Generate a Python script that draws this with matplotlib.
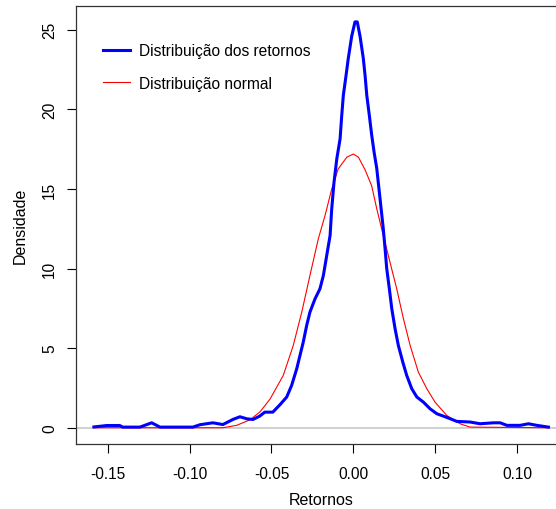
"""
Densidade dos retornos vs. distribuição normal (recriação de um gráfico base do R)
"""
import matplotlib
matplotlib.use('Agg')
import matplotlib.pyplot as plt

plt.rcParams['font.family'] = ['Liberation Sans', 'DejaVu Sans']

# densidade empírica dos retornos
ret_x = [-0.1585, -0.1506, -0.1427, -0.1409, -0.1304, -0.1232, -0.1181, -0.0980,
         -0.0937, -0.0858, -0.0797, -0.0736, -0.0693, -0.0650, -0.0613, -0.0572,
         -0.0541, -0.0492, -0.0448, -0.0407, -0.0377, -0.0346, -0.0326, -0.0306,
         -0.0285, -0.0265, -0.0234, -0.0204, -0.0183, -0.0163, -0.0142, -0.0132,
         -0.0118, -0.0101, -0.0081, -0.0071, -0.0061, -0.0045, -0.0031, -0.0010,
         0.0010, 0.0024, 0.0041, 0.0061, 0.0072, 0.0082, 0.0098, 0.0112,
         0.0127, 0.0143, 0.0163, 0.0183, 0.0194, 0.0204, 0.0220, 0.0235,
         0.0255, 0.0275, 0.0302, 0.0326, 0.0357, 0.0388, 0.0428, 0.0469,
         0.0510, 0.0571, 0.0632, 0.0713, 0.0774, 0.0856, 0.0897, 0.0938,
         0.1019, 0.1070, 0.1121, 0.1192]
ret_dens = [0.05, 0.14, 0.14, 0.04, 0.04, 0.31, 0.04, 0.04,
            0.19, 0.31, 0.20, 0.52, 0.69, 0.56, 0.52, 0.73,
            0.98, 0.98, 1.45, 1.93, 2.66, 3.70, 4.54, 5.38,
            6.43, 7.27, 8.10, 8.73, 9.57, 10.8, 12.08, 13.76,
            15.43, 16.9, 18.15, 19.6, 20.9, 22.1, 23.2, 24.6,
            25.5, 25.5, 24.6, 23.2, 22.1, 20.9, 19.6, 18.4,
            17.3, 16.3, 14.4, 12.5, 11.24, 10.0, 8.73, 7.47,
            6.22, 5.17, 4.13, 3.29, 2.45, 1.93, 1.61, 1.19,
            0.88, 0.65, 0.40, 0.36, 0.25, 0.31, 0.31, 0.15,
            0.15, 0.25, 0.15, 0.04]

# curva normal
norm_x = [-0.1585, -0.0797, -0.0713, -0.0631, -0.0570, -0.0509, -0.0460, -0.0428,
          -0.0367, -0.0315, -0.0265, -0.0214, -0.0173, -0.0132, -0.0092, -0.0040,
          0.0000, 0.0031, 0.0072, 0.0112, 0.0143, 0.0183, 0.0224, 0.0265,
          0.0306, 0.0347, 0.0397, 0.0449, 0.0499, 0.0571, 0.0652, 0.0713, 0.1192]
norm_dens = [0.0, 0.0, 0.15, 0.5, 1.0, 1.8, 2.7, 3.29,
             5.17, 7.27, 9.57, 11.87, 13.33, 15.0, 16.27, 17.0,
             17.2, 17.0, 16.2, 15.2, 13.76, 12.08, 10.4, 8.73,
             6.85, 5.17, 3.5, 2.45, 1.61, 0.77, 0.25, 0.04, 0.0]

x_ticks = [-0.15, -0.10, -0.05, 0.00, 0.05, 0.10]
y_ticks = [0, 5, 10, 15, 20, 25]

fig = plt.figure(figsize=(5.56, 5.10), dpi=100)
ax = fig.add_axes([0.1362, 0.1275, 0.8829, 0.8588])

ax.axhline(0, color='#c8c8c8', lw=1.2, zorder=1)
ax.plot(ret_x, ret_dens, color='#0000ff', lw=2.2, label='Distribuição dos retornos', zorder=3)
ax.plot(norm_x, norm_dens, color='#ff0000', lw=0.8, label='Distribuição normal', zorder=2)

ax.set_xlim(-0.1696, 0.1303)
ax.set_ylim(-1.02, 26.5)
ax.set_xticks(x_ticks)
ax.set_xticklabels([f'{t:.2f}' for t in x_ticks])
ax.set_yticks(y_ticks)
ax.tick_params(axis='both', direction='out', length=6.5, width=0.8, labelsize=11.2)
ax.tick_params(axis='x', pad=9)
ax.tick_params(axis='y', labelrotation=90, pad=7)
for lbl in ax.get_yticklabels():
    lbl.set_va('center')

for s in ax.spines.values():
    s.set_linewidth(0.9)
    s.set_color('#333333')

ax.set_xlabel('Retornos', fontsize=11.5, labelpad=8)
ax.set_ylabel('Densidade', fontsize=11.5, labelpad=10)

ax.legend(loc='upper left', bbox_to_anchor=(0.043, 0.929), frameon=False,
          fontsize=11.2, handlelength=1.7, handletextpad=0.58, labelspacing=1.13,
          borderaxespad=0)

fig.savefig('out.png', dpi=100, facecolor='white')
